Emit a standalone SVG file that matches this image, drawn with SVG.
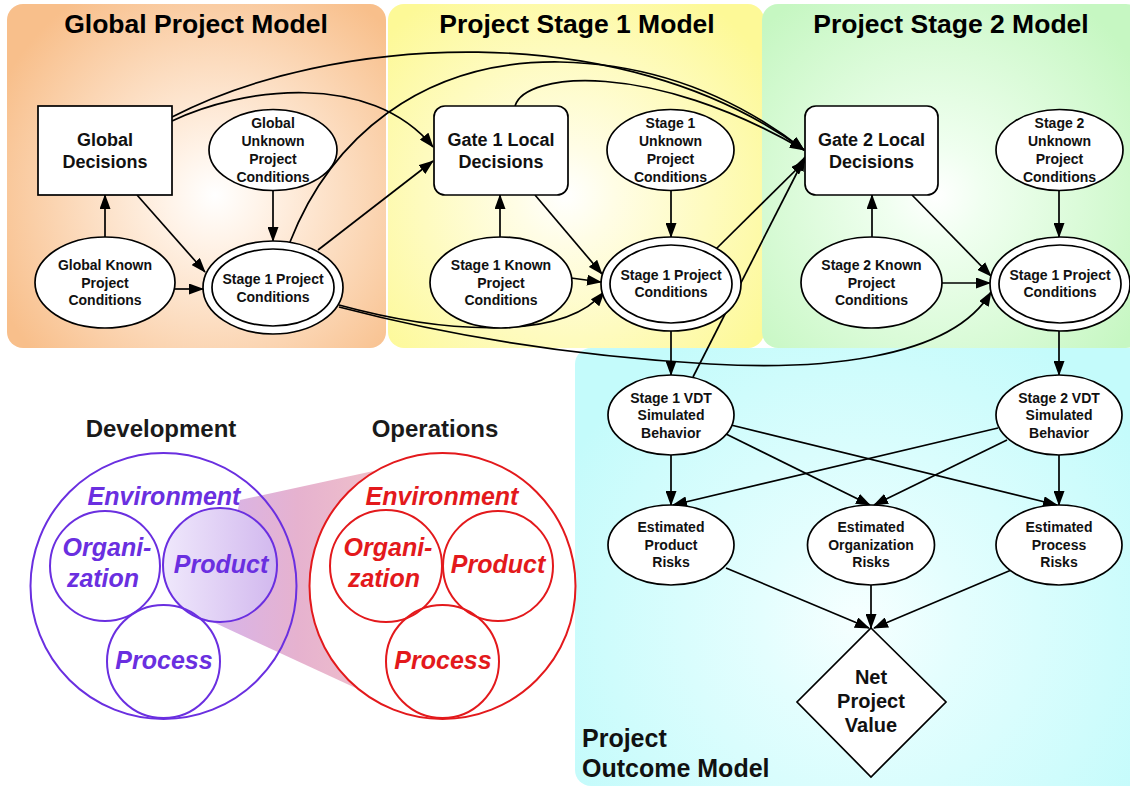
<svg xmlns="http://www.w3.org/2000/svg" width="1130" height="788" viewBox="0 0 1130 788">
<defs>
<radialGradient id="gOr" gradientUnits="userSpaceOnUse" cx="215" cy="195" r="240"><stop offset="0" stop-color="#ffffff"/><stop offset="0.2" stop-color="#fff3e8"/><stop offset="1" stop-color="#f8bf8b"/></radialGradient>
<radialGradient id="gYe" gradientUnits="userSpaceOnUse" cx="565" cy="195" r="240"><stop offset="0" stop-color="#ffffff"/><stop offset="0.2" stop-color="#fffde6"/><stop offset="1" stop-color="#fdf997"/></radialGradient>
<radialGradient id="gGr" gradientUnits="userSpaceOnUse" cx="935" cy="195" r="240"><stop offset="0" stop-color="#ffffff"/><stop offset="0.2" stop-color="#f0fff0"/><stop offset="1" stop-color="#c6f7c2"/></radialGradient>
<radialGradient id="gCy" gradientUnits="userSpaceOnUse" cx="860" cy="620" r="330"><stop offset="0" stop-color="#f6ffff"/><stop offset="0.3" stop-color="#e4fefe"/><stop offset="1" stop-color="#c4fbfb"/></radialGradient>
<linearGradient id="gCone" gradientUnits="userSpaceOnUse" x1="215" y1="0" x2="380" y2="0"><stop offset="0" stop-color="#d7b4ea"/><stop offset="0.5" stop-color="#e6b2cf"/><stop offset="1" stop-color="#f0c0ca"/></linearGradient>
<linearGradient id="gProd" gradientUnits="userSpaceOnUse" x1="163" y1="0" x2="277" y2="0"><stop offset="0" stop-color="#efe8fc"/><stop offset="1" stop-color="#d2b8ee"/></linearGradient>
<marker id="ah" markerUnits="userSpaceOnUse" markerWidth="15" markerHeight="11" refX="14" refY="5.5" orient="auto"><path d="M0,0 L15,5.5 L0,11 Z" fill="#000"/></marker>
<style>
.n{fill:#fff;stroke:#000;stroke-width:1.7}
.t{font-family:"Liberation Sans",Arial,sans-serif;font-weight:bold;font-size:14px;text-anchor:middle;fill:#111}
.tl{font-size:18px}
.ti{font-size:26.5px;fill:#000}
.e{fill:none;stroke:#000;stroke-width:1.7;marker-end:url(#ah)}
.pu{fill:none;stroke:#6a2fe0;stroke-width:2}
.re{fill:none;stroke:#e3191c;stroke-width:2}
.vt{font-family:"Liberation Sans",Arial,sans-serif;font-weight:bold;font-style:italic;font-size:25px;text-anchor:middle}
.hd{font-family:"Liberation Sans",Arial,sans-serif;font-weight:bold;font-size:24px;text-anchor:middle;fill:#1a1a1a}
</style>
</defs>

<g id="panels">
<rect x="7" y="4" width="379" height="344" rx="16" fill="url(#gOr)"/>
<rect x="388" y="4" width="376" height="344" rx="16" fill="url(#gYe)"/>
<rect x="762" y="4" width="380" height="344" rx="16" fill="url(#gGr)"/>
<rect x="575" y="348" width="570" height="438" rx="16" fill="url(#gCy)"/>
<text class="t ti" x="196" y="33">Global Project Model</text>
<text class="t ti" x="577" y="33">Project Stage 1 Model</text>
<text class="t ti" x="951" y="33">Project Stage 2 Model</text>
<text class="t" style="font-size:25px;text-anchor:start" x="582" y="747">Project</text>
<text class="t" style="font-size:25px;text-anchor:start" x="582" y="777">Outcome Model</text>
</g>

<g id="connectors">
<path class="e" d="M105,237 L105,195"/>
<path class="e" d="M137,195 L205,272"/>
<path class="e" d="M175,289 L203,289"/>
<path class="e" d="M273,190 L273,241"/>
<path class="e" d="M172,121 C240,88 370,70 433,147"/>
<path class="e" d="M172,117 C330,35 620,15 804,150"/>
<path class="e" d="M318,250 L433,161"/>
<path class="e" d="M290,242 C330,140 420,60 560,62 C660,64 740,100 804,150"/>
<path class="e" d="M339,305 C430,330 560,345 604,292"/>
<path class="e" d="M339,307 C450,336 570,356 710,364 C810,370 950,362 991,292"/>
<path class="e" d="M500,237 L500,195"/>
<path class="e" d="M535,195 L602,274"/>
<path class="e" d="M571,278 L601,282"/>
<path class="e" d="M671,190 L671,237"/>
<path class="e" d="M515,106 C525,72 650,60 804,150"/>
<path class="e" d="M671,331 L671,375"/>
<path class="e" d="M716,249 L805,161"/>
<path class="e" d="M693,377 L805,157"/>
<path class="e" d="M872,237 L872,195"/>
<path class="e" d="M912,195 L991,276"/>
<path class="e" d="M942,283 L990,283"/>
<path class="e" d="M1059,190 L1059,237"/>
<path class="e" d="M1059,331 L1059,375"/>
<path class="e" d="M671,455 L671,505"/>
<path class="e" d="M724,433 L870,505"/>
<path class="e" d="M731,425 L1057,505"/>
<path class="e" d="M998,428 L673,505"/>
<path class="e" d="M1007,440 L874,505"/>
<path class="e" d="M1059,455 L1059,505"/>
<path class="e" d="M726,568 L869,628"/>
<path class="e" d="M871,585 L871,628"/>
<path class="e" d="M1016,568 L874,628"/>
</g>

<g id="global-decisions"><rect class="n" x="38" y="106" width="134" height="89"/><text class="t tl" x="105" y="146">Global</text><text class="t tl" x="105" y="168">Decisions</text></g>
<g id="global-unknown"><ellipse class="n" cx="273" cy="150" rx="64" ry="40.5"/><text class="t" x="273" y="128">Global</text><text class="t" x="273" y="146">Unknown</text><text class="t" x="273" y="164">Project</text><text class="t" x="273" y="182">Conditions</text></g>
<g id="global-known"><ellipse class="n" cx="105" cy="282.5" rx="70" ry="45.5"/><text class="t" x="105" y="270">Global Known</text><text class="t" x="105" y="288">Project</text><text class="t" x="105" y="305">Conditions</text></g>
<g id="global-stage1-conditions"><ellipse class="n" cx="273" cy="287.5" rx="70" ry="46.5"/><ellipse class="n" cx="273" cy="287.5" rx="61" ry="38.5"/><text class="t" x="273" y="284">Stage 1 Project</text><text class="t" x="273" y="302">Conditions</text></g>

<g id="gate1-decisions"><rect class="n" x="434" y="106" width="134" height="89" rx="11"/><text class="t tl" x="501" y="146">Gate 1 Local</text><text class="t tl" x="501" y="168">Decisions</text></g>
<g id="stage1-unknown"><ellipse class="n" cx="670.5" cy="150" rx="63.5" ry="40.5"/><text class="t" x="670.5" y="128">Stage 1</text><text class="t" x="670.5" y="146">Unknown</text><text class="t" x="670.5" y="164">Project</text><text class="t" x="670.5" y="182">Conditions</text></g>
<g id="stage1-known"><ellipse class="n" cx="501" cy="282.5" rx="71" ry="45.5"/><text class="t" x="501" y="270">Stage 1 Known</text><text class="t" x="501" y="288">Project</text><text class="t" x="501" y="305">Conditions</text></g>
<g id="stage1-conditions"><ellipse class="n" cx="671" cy="284" rx="70" ry="47"/><ellipse class="n" cx="671" cy="284" rx="61" ry="39"/><text class="t" x="671" y="280">Stage 1 Project</text><text class="t" x="671" y="297">Conditions</text></g>

<g id="gate2-decisions"><rect class="n" x="805" y="106" width="133" height="89" rx="11"/><text class="t tl" x="871.5" y="146">Gate 2 Local</text><text class="t tl" x="871.5" y="168">Decisions</text></g>
<g id="stage2-unknown"><ellipse class="n" cx="1059.5" cy="150" rx="63.5" ry="40.5"/><text class="t" x="1059.5" y="128">Stage 2</text><text class="t" x="1059.5" y="146">Unknown</text><text class="t" x="1059.5" y="164">Project</text><text class="t" x="1059.5" y="182">Conditions</text></g>
<g id="stage2-known"><ellipse class="n" cx="871.5" cy="282.5" rx="70.5" ry="45.5"/><text class="t" x="871.5" y="270">Stage 2 Known</text><text class="t" x="871.5" y="288">Project</text><text class="t" x="871.5" y="305">Conditions</text></g>
<g id="stage2-conditions"><ellipse class="n" cx="1060" cy="284" rx="70" ry="47"/><ellipse class="n" cx="1060" cy="284" rx="61" ry="39"/><text class="t" x="1060" y="280">Stage 1 Project</text><text class="t" x="1060" y="297">Conditions</text></g>

<g id="vdt1"><ellipse class="n" cx="671" cy="415" rx="63" ry="40"/><text class="t" x="671" y="403">Stage 1 VDT</text><text class="t" x="671" y="420">Simulated</text><text class="t" x="671" y="438">Behavior</text></g>
<g id="vdt2"><ellipse class="n" cx="1059" cy="415" rx="63" ry="40"/><text class="t" x="1059" y="403">Stage 2 VDT</text><text class="t" x="1059" y="420">Simulated</text><text class="t" x="1059" y="438">Behavior</text></g>
<g id="est-product"><ellipse class="n" cx="671" cy="545" rx="63" ry="40"/><text class="t" x="671" y="532">Estimated</text><text class="t" x="671" y="550">Product</text><text class="t" x="671" y="567">Risks</text></g>
<g id="est-organization"><ellipse class="n" cx="871" cy="545" rx="63.5" ry="40"/><text class="t" x="871" y="532">Estimated</text><text class="t" x="871" y="550">Organization</text><text class="t" x="871" y="567">Risks</text></g>
<g id="est-process"><ellipse class="n" cx="1059" cy="545" rx="63" ry="40"/><text class="t" x="1059" y="532">Estimated</text><text class="t" x="1059" y="550">Process</text><text class="t" x="1059" y="567">Risks</text></g>
<g id="net-value"><path class="n" d="M871,628 L946,702 L871,777 L797,702 Z"/><text class="t" style="font-size:20px" x="871" y="684">Net</text><text class="t" style="font-size:20px" x="871" y="708">Project</text><text class="t" style="font-size:20px" x="871" y="732">Value</text></g>

<g id="dev-ops">
<text class="hd" x="161" y="437">Development</text>
<text class="hd" x="435" y="437">Operations</text>
<circle cx="163.5" cy="586" r="133" fill="#fff"/>
<polygon points="240,500 378,470 360,690 213,622" fill="url(#gCone)"/>
<circle cx="220" cy="565" r="57" fill="url(#gProd)"/>
<circle class="pu" cx="163.5" cy="586" r="133"/>
<circle class="pu" cx="105" cy="566" r="55"/>
<circle class="pu" cx="220" cy="565" r="57"/>
<circle class="pu" cx="163.5" cy="661.5" r="56.5"/>
<text class="vt" fill="#6a2fe0" x="164" y="505">Environment</text>
<text class="vt" fill="#6a2fe0" x="107" y="556">Organi-</text>
<text class="vt" fill="#6a2fe0" x="103" y="587">zation</text>
<text class="vt" fill="#6a2fe0" x="221" y="573">Product</text>
<text class="vt" fill="#6a2fe0" x="164" y="669">Process</text>
<circle cx="442.5" cy="586" r="133" fill="#fff"/>
<circle class="re" cx="442.5" cy="586" r="133"/>
<circle class="re" cx="386" cy="566" r="56"/>
<circle class="re" cx="498" cy="566" r="55"/>
<circle class="re" cx="442.5" cy="661.5" r="56.5"/>
<text class="vt" fill="#e3191c" x="442" y="505">Environment</text>
<text class="vt" fill="#e3191c" x="388" y="556">Organi-</text>
<text class="vt" fill="#e3191c" x="384" y="587">zation</text>
<text class="vt" fill="#e3191c" x="498" y="573">Product</text>
<text class="vt" fill="#e3191c" x="443" y="669">Process</text>
</g>
</svg>
